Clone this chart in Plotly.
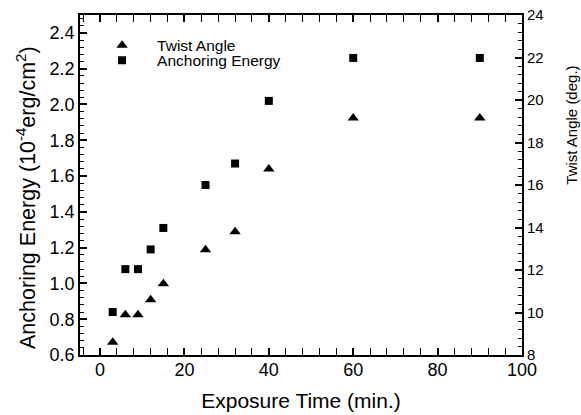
import plotly.graph_objects as go

# Data
time_min = [3, 6, 9, 12, 15, 25, 32, 40, 60, 90]
anchoring_energy = [0.84, 1.08, 1.08, 1.19, 1.31, 1.55, 1.67, 2.02, 2.26, 2.26]
twist_angle = [8.6, 9.9, 9.9, 10.6, 11.35, 12.95, 13.8, 16.75, 19.15, 19.15]

x_ticks = [0, 20, 40, 60, 80, 100]
y_left_ticks = [0.6, 0.8, 1.0, 1.2, 1.4, 1.6, 1.8, 2.0, 2.2, 2.4]
y_right_ticks = [8, 10, 12, 14, 16, 18, 20, 22, 24]

FONT = "Liberation Sans, Arial, Helvetica, sans-serif"

fig = go.Figure()
fig.add_trace(go.Scatter(
    x=time_min, y=twist_angle, mode="markers", name="Twist Angle",
    marker=dict(symbol="triangle-up", size=10, color="black"),
    yaxis="y2", legend="legend",
))
fig.add_trace(go.Scatter(
    x=time_min, y=anchoring_energy, mode="markers", name="Anchoring Energy",
    marker=dict(symbol="square", size=8, color="black"),
    yaxis="y", legend="legend2",
))

axis_common = dict(
    showline=True, linecolor="black", linewidth=1.8,
    ticks="inside", tickcolor="black", tickwidth=1.5,
    showgrid=False, zeroline=False, automargin=False,
)
minor_common = dict(ticklen=4, ticks="inside", tickcolor="black", tickwidth=1.2)

legend_common = dict(
    xanchor="left", yanchor="middle",
    bgcolor="rgba(0,0,0,0)", borderwidth=0,
    font=dict(size=15.5, family=FONT, color="black"), itemwidth=60,
)

fig.update_layout(
    width=581, height=415,
    margin=dict(l=80, r=59, t=15, b=60, autoexpand=False),
    paper_bgcolor="white", plot_bgcolor="white",
    font=dict(family=FONT, color="black", size=18),
    showlegend=True,
    legend=dict(x=0.016, y=0.910, **legend_common),
    legend2=dict(x=0.016, y=0.866, **legend_common),
    xaxis=dict(
        **axis_common,
        range=[-4.75, 100], tickvals=x_ticks, ticklen=7,
        minor=dict(dtick=4, tick0=0, **minor_common),
        mirror="allticks",
        tickfont=dict(size=18), ticklabelstandoff=-3,
        title=dict(text="Exposure Time (min.)", font=dict(size=21), standoff=15),
    ),
    yaxis=dict(
        **axis_common,
        range=[0.6, 2.5], tickvals=y_left_ticks, tickformat=".1f", ticklen=7,
        minor=dict(dtick=0.04, tick0=0.6, **minor_common),
        tickfont=dict(size=18),
    ),
    yaxis2=dict(
        **axis_common,
        overlaying="y", side="right",
        range=[8, 24], tickvals=y_right_ticks, ticklen=7,
        minor=dict(dtick=0.4, tick0=8, **minor_common),
        tickfont=dict(size=15),
    ),
    annotations=[
        dict(
            text="Anchoring Energy (10<sup>-4</sup>erg/cm<sup>2</sup>)",
            xref="paper", yref="paper", x=-0.122, y=0.462, textangle=-90,
            showarrow=False, font=dict(size=21.5, family=FONT, color="black"),
            xanchor="center", yanchor="middle",
        ),
        dict(
            text="Twist Angle (deg.)", xref="paper", yref="paper",
            x=1.112, y=0.676, textangle=-90, showarrow=False,
            font=dict(size=15, family=FONT, color="black"),
            xanchor="center", yanchor="middle",
        ),
    ],
)

fig.write_html(
    "out.html",
    config={"displayModeBar": False},
    post_script="document.body.style.margin='0';document.body.style.overflow='hidden';",
)
